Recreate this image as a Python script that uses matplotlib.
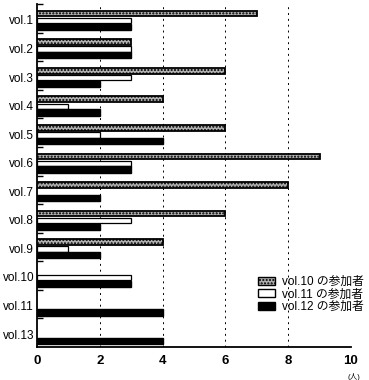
import numpy as np
import matplotlib
matplotlib.use('Agg')
import matplotlib.pyplot as plt
from matplotlib.patches import Patch

plt.rcParams['font.family'] = ['Liberation Sans', 'Noto Sans CJK JP']

# data
categories = ['vol.1', 'vol.2', 'vol.3', 'vol.4', 'vol.5', 'vol.6',
              'vol.7', 'vol.8', 'vol.9', 'vol.10', 'vol.11', 'vol.13']
vol10 = [7, 3, 6, 4, 6, 9, 8, 6, 4, 0, 0, 0]
vol11 = [3, 3, 3, 1, 2, 3, 0, 3, 1, 3, 0, 0]
vol12 = [3, 3, 2, 2, 4, 3, 2, 2, 2, 3, 4, 4]
series_labels = ['vol.10 の参加者', 'vol.11 の参加者', 'vol.12 の参加者']
xticks = [0, 2, 4, 6, 8, 10]

fig = plt.figure(figsize=(3.69, 3.80), dpi=100)
ax = fig.add_axes([0.1, 0.087, 0.851, 0.902])

y = np.arange(len(categories))


def draw(vals, offset, height, **kw):
    # skip zero-length bars so no stray edges show at x=0
    idx = [i for i, v in enumerate(vals) if v > 0]
    ax.barh(y[idx] + offset, [vals[i] for i in idx], height=height, zorder=3, **kw)


draw(vol10, -0.17, 0.2, color='#b0b0b0', edgecolor='black', linewidth=1.3, hatch='.....')
draw(vol11, 0.075, 0.19, color='white', edgecolor='black', linewidth=0.9)
draw(vol12, 0.29, 0.22, color='black', edgecolor='black', linewidth=1.0)

ax.set_xlim(0, 10)
ax.set_ylim(11.5, -0.5)

# vertical dotted grid
for gx in xticks[1:]:
    ax.axvline(gx, color='black', linestyle=(0, (2, 4)), linewidth=0.7, zorder=1)

ax.set_yticks(y + 0.05)
ax.set_yticklabels(categories, fontsize=8.5)
ax.tick_params(axis='y', length=0, pad=2)
ax.set_yticks(y - 0.5, minor=True)
ax.tick_params(axis='y', which='minor', direction='in', length=4, width=1)

ax.set_xticks(xticks)
ax.set_xticklabels([str(t) for t in xticks], fontsize=9.5, fontweight='bold')
ax.tick_params(axis='x', length=0, pad=6)
ax.annotate('(人)', xy=(1.0, 0), xycoords='axes fraction',
            xytext=(2, -19), textcoords='offset points',
            ha='center', va='top', fontsize=5.5)

for s in ['top', 'right']:
    ax.spines[s].set_visible(False)
ax.spines['left'].set_linewidth(1.3)
ax.spines['bottom'].set_linewidth(1.3)

handles = [Patch(facecolor='#b0b0b0', edgecolor='black', hatch='.....'),
           Patch(facecolor='white', edgecolor='black'),
           Patch(facecolor='black', edgecolor='black')]
ax.legend(handles, series_labels, loc='lower right', bbox_to_anchor=(1.055, 0.085),
          frameon=False, fontsize=8.5, handlelength=1.4, handleheight=0.7,
          labelspacing=0.05, handletextpad=0.6, borderaxespad=0)

fig.savefig('out.png', dpi=100)
